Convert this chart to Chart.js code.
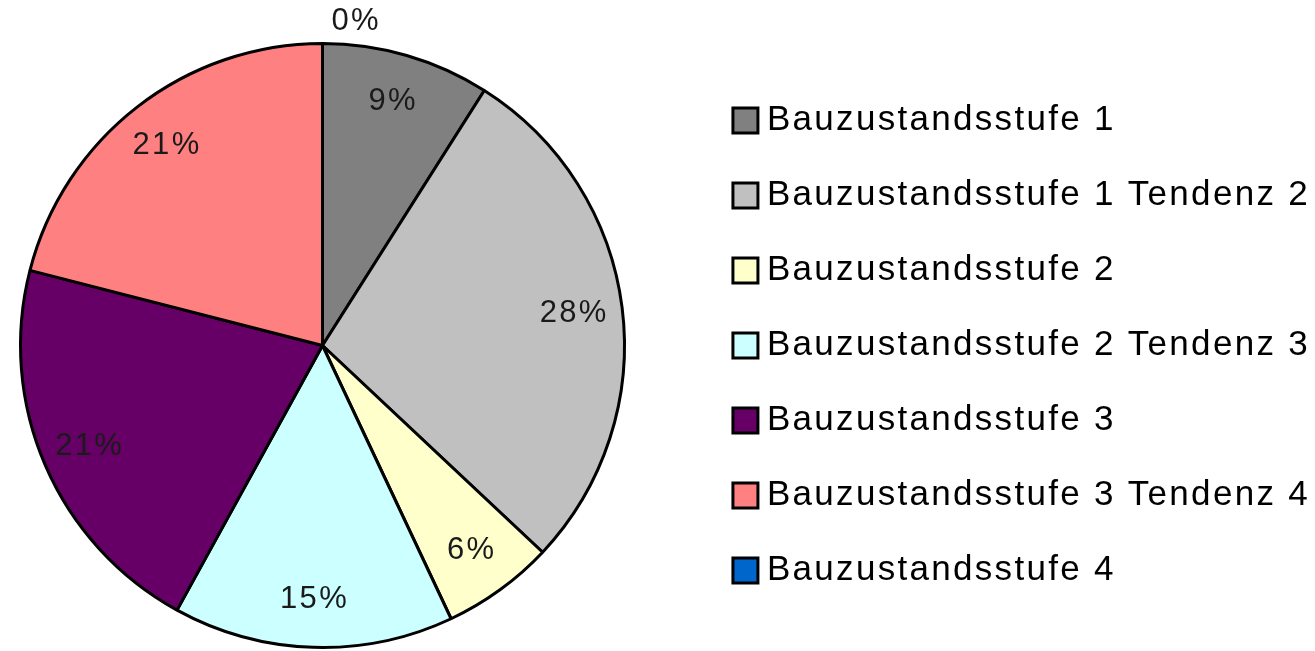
<!DOCTYPE html>
<html>
<head>
<meta charset="utf-8">
<script src="https://cdn.jsdelivr.net/npm/chart.js@4/dist/chart.umd.min.js"></script>
<style>
    html, body { margin: 0; padding: 0; background: #ffffff; }
    #wrap { width: 1315px; height: 651px; position: relative; }
</style>
</head>
<body>
<div id="wrap"><canvas id="chart"></canvas></div>
<script>
const categories = [
    'Bauzustandsstufe 1',
    'Bauzustandsstufe 1 Tendenz 2',
    'Bauzustandsstufe 2',
    'Bauzustandsstufe 2 Tendenz 3',
    'Bauzustandsstufe 3',
    'Bauzustandsstufe 3 Tendenz 4',
    'Bauzustandsstufe 4',
];
const shares = [9, 28, 6, 15, 21, 21, 0];
const sliceColors = ['#808080', '#c0c0c0', '#ffffcc', '#ccffff', '#660066', '#ff8080', '#0066cc'];

const FONT = '"Liberation Sans", Arial, sans-serif';
const LETTER_SPACING = '2.3px';

// old office charts render text with loose spacing
const spacing = {
    id: 'spacing',
    beforeUpdate(chart) { chart.ctx.letterSpacing = LETTER_SPACING; },
    beforeDraw(chart) { chart.ctx.letterSpacing = LETTER_SPACING; },
};

// leave some white space between the pie and the legend
const pieGap = {
    id: 'pieGap',
    afterLayout(chart) {
        const area = chart.chartArea;
        area.right = area.left + 645;
        area.width = area.right - area.left;
    },
};

const sliceLabels = {
    id: 'sliceLabels',
    afterDatasetsDraw(chart) {
        const ctx = chart.ctx;
        const meta = chart.getDatasetMeta(0);
        const values = chart.data.datasets[0].data;
        const total = values.reduce((a, b) => a + b, 0);

        ctx.save();
        ctx.font = '31px ' + FONT;
        ctx.fillStyle = '#1a1a1a';
        ctx.textBaseline = 'middle';

        meta.data.forEach((arc, i) => {
            const { x, y, startAngle, endAngle, outerRadius } = arc.getProps(
                ['x', 'y', 'startAngle', 'endAngle', 'outerRadius'], true);
            const mid = (startAngle + endAngle) / 2;
            const text = Math.round(values[i] / total * 100) + '%';

            if (values[i] === 0) {
                // empty slice: label sits just outside the rim
                const r = outerRadius + 22;
                ctx.textAlign = 'left';
                ctx.fillText(text, x + Math.cos(mid) * r + 9, y + Math.sin(mid) * r);
                return;
            }

            const r = outerRadius * 0.84;
            ctx.textAlign = 'center';
            ctx.fillText(text, x + Math.cos(mid) * r, y + Math.sin(mid) * r);
        });
        ctx.restore();
    },
};

new Chart(document.getElementById('chart'), {
    type: 'pie',
    data: {
        labels: categories,
        datasets: [{
            data: shares,
            backgroundColor: sliceColors,
            borderColor: '#000000',
            borderWidth: 3,
        }],
    },
    options: {
        responsive: true,
        maintainAspectRatio: false,
        animation: false,
        layout: {
            padding: { top: 42, bottom: 2, left: 0, right: -5 },
        },
        plugins: {
            tooltip: { enabled: false },
            legend: {
                position: 'right',
                labels: {
                    color: '#000000',
                    usePointStyle: true,
                    pointStyle: 'rect',
                    boxWidth: 8,
                    boxHeight: 25,
                    padding: 40,
                    font: { family: FONT, size: 35 },
                },
            },
        },
    },
    plugins: [spacing, pieGap, sliceLabels],
});
</script>
</body>
</html>
